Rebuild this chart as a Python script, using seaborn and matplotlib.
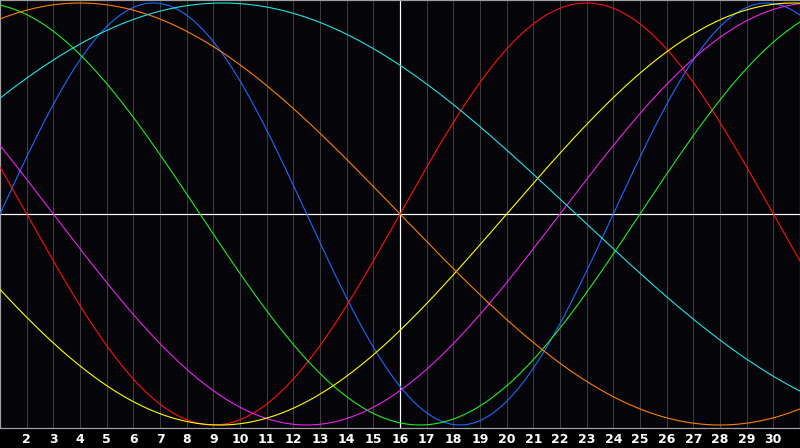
import numpy as np
import pandas as pd
import matplotlib
matplotlib.use("Agg")
import matplotlib.pyplot as plt
import seaborn as sns

# ---- data ----
cycle_names = ["Physical", "Emotional", "Intellectual", "Intuitive", "Aesthetic", "Awareness", "Spiritual"]
periods = [23, 28, 33, 38, 43, 48, 53]               # cycle length in days
rising_zero_day = [1.0, 16.0, 25.0, 22.0, 20.0, -8.0, -3.9]  # day where each cycle crosses 0 upwards
day_labels = list(range(2, 31))
first_day, last_day = 1, 31
today = 16

# ---- style ----
colors = ["#1a6bff", "#ff1010", "#22ee22", "#ee22ee", "#ffff00", "#ff7f00", "#22e5e5"]
px = 0.72  # one pixel at 100 dpi

sns.set_theme(style="dark")
plt.rcParams['font.family'] = ['DejaVu Sans']

days = np.linspace(first_day, last_day, 801)
frames = []
for name, p, z in zip(cycle_names, periods, rising_zero_day):
    frames.append(pd.DataFrame({"day": days,
                                "value": np.sin(2 * np.pi * (days - z) / p),
                                "cycle": name}))
df = pd.concat(frames, ignore_index=True)

fig = plt.figure(figsize=(8.0, 4.48), dpi=100, facecolor="#000000")
ax = fig.add_axes([0, 20 / 448, 1, 428 / 448])
ax.set_facecolor("#050509")

for d in day_labels:
    ax.axvline(d, color="#3c3c3c", lw=px, zorder=1)

sns.lineplot(data=df, x="day", y="value", hue="cycle", hue_order=cycle_names,
             palette=dict(zip(cycle_names, colors)), lw=px * 1.1, legend=False,
             ax=ax, zorder=3)

ax.axvline(today, color="#ffffff", lw=px * 1.2, zorder=2)
ax.axhline(0, color="#ffffff", lw=px * 1.2, zorder=2)

amp = 214 / 211
ax.set_xlim(first_day, last_day)
ax.set_ylim(-amp, amp)
ax.set_yticks([])
ax.set_xticks(day_labels)
ax.set_xticklabels([str(d) for d in day_labels], color="white",
                   fontweight="bold", fontsize=9)
ax.tick_params(axis="x", length=0, pad=3.5)
ax.set_xlabel("")
ax.set_ylabel("")
ax.grid(False)
for s in ax.spines.values():
    s.set_visible(True)
    s.set_color("#a0a0a0")
    s.set_linewidth(px * 1.2)

fig.savefig("out.png", dpi=100, facecolor=fig.get_facecolor())
